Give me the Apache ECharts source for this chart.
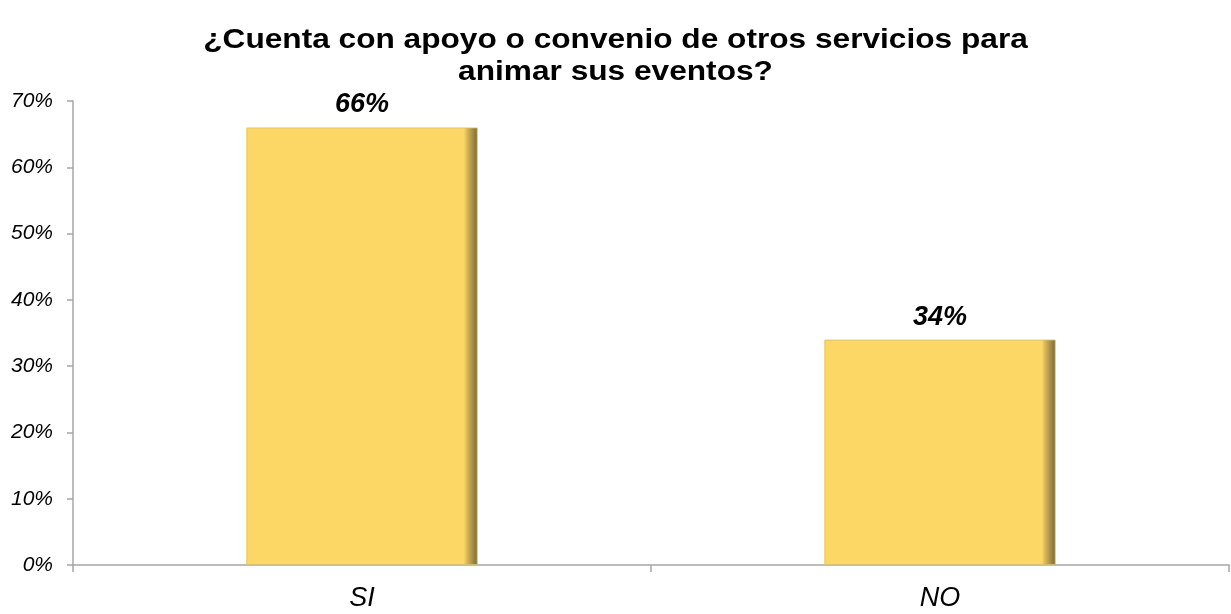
<!DOCTYPE html>
<html>
<head>
<meta charset="utf-8">
<script src="https://cdn.jsdelivr.net/npm/echarts@6/dist/echarts.min.js"></script>
<style>
  html, body { margin: 0; padding: 0; background: #ffffff; }
  #chart { width: 1231px; height: 614px; }
</style>
</head>
<body>
<div id="chart"></div>
<script>
// Survey answers: does the venue have support or agreements with other services for event entertainment?
const titleLines = ['¿Cuenta con apoyo o convenio de otros servicios para', 'animar sus eventos?'];
const categories = ['SI', 'NO'];
const shares = [66, 34];
const yTicks = { min: 0, max: 70, interval: 10 };

const chart = echarts.init(document.getElementById('chart'));
const W = chart.getWidth();

// Golden bar with a darker shaded strip on the right edge
const barFill = new echarts.graphic.LinearGradient(0, 0, 1, 0, [
  { offset: 0, color: '#fcd766' },
  { offset: 0.94, color: '#fcd766' },
  { offset: 0.955, color: '#d8b655' },
  { offset: 1, color: '#7a6934' }
]);

const font = 'Liberation Sans, Arial, sans-serif';

// Wide bold heading, two centred lines
const titleGraphics = titleLines.map((line, i) => ({
  type: 'text',
  x: W / 2,
  y: 40 + i * 32,
  scaleX: 1.13,
  style: {
    text: line,
    font: 'bold 28px ' + font,
    fill: '#000000',
    textAlign: 'center',
    textVerticalAlign: 'middle'
  }
}));

chart.setOption({
  animation: false,
  backgroundColor: '#ffffff',
  graphic: titleGraphics,
  grid: { left: 73, right: 2, top: 101, bottom: 49, containLabel: false },
  xAxis: {
    type: 'category',
    data: categories,
    axisLine: { lineStyle: { color: '#a6a6a6', width: 1.5 } },
    axisTick: { show: true, length: 7, lineStyle: { color: '#a6a6a6', width: 1.5 } },
    axisLabel: {
      margin: 20,
      fontFamily: font,
      fontSize: 27,
      fontStyle: 'italic',
      color: '#000000'
    },
    splitLine: { show: false }
  },
  yAxis: {
    type: 'value',
    min: yTicks.min,
    max: yTicks.max,
    interval: yTicks.interval,
    axisLine: { show: true, lineStyle: { color: '#a6a6a6', width: 1.5 } },
    axisTick: { show: true, length: 6, lineStyle: { color: '#a6a6a6', width: 1.5 } },
    axisLabel: {
      margin: 20,
      formatter: '{value}%',
      fontFamily: font,
      fontSize: 21,
      fontStyle: 'italic',
      color: '#000000'
    },
    splitLine: { show: false }
  },
  series: [{
    type: 'bar',
    data: shares,
    barWidth: '40%',
    itemStyle: {
      color: barFill,
      borderColor: '#d9bf6a',
      borderWidth: 0.8
    },
    label: {
      show: true,
      position: 'top',
      distance: 9,
      formatter: '{c}%',
      fontFamily: font,
      fontSize: 27,
      fontWeight: 'bold',
      fontStyle: 'italic',
      color: '#000000'
    }
  }]
});
</script>
</body>
</html>
